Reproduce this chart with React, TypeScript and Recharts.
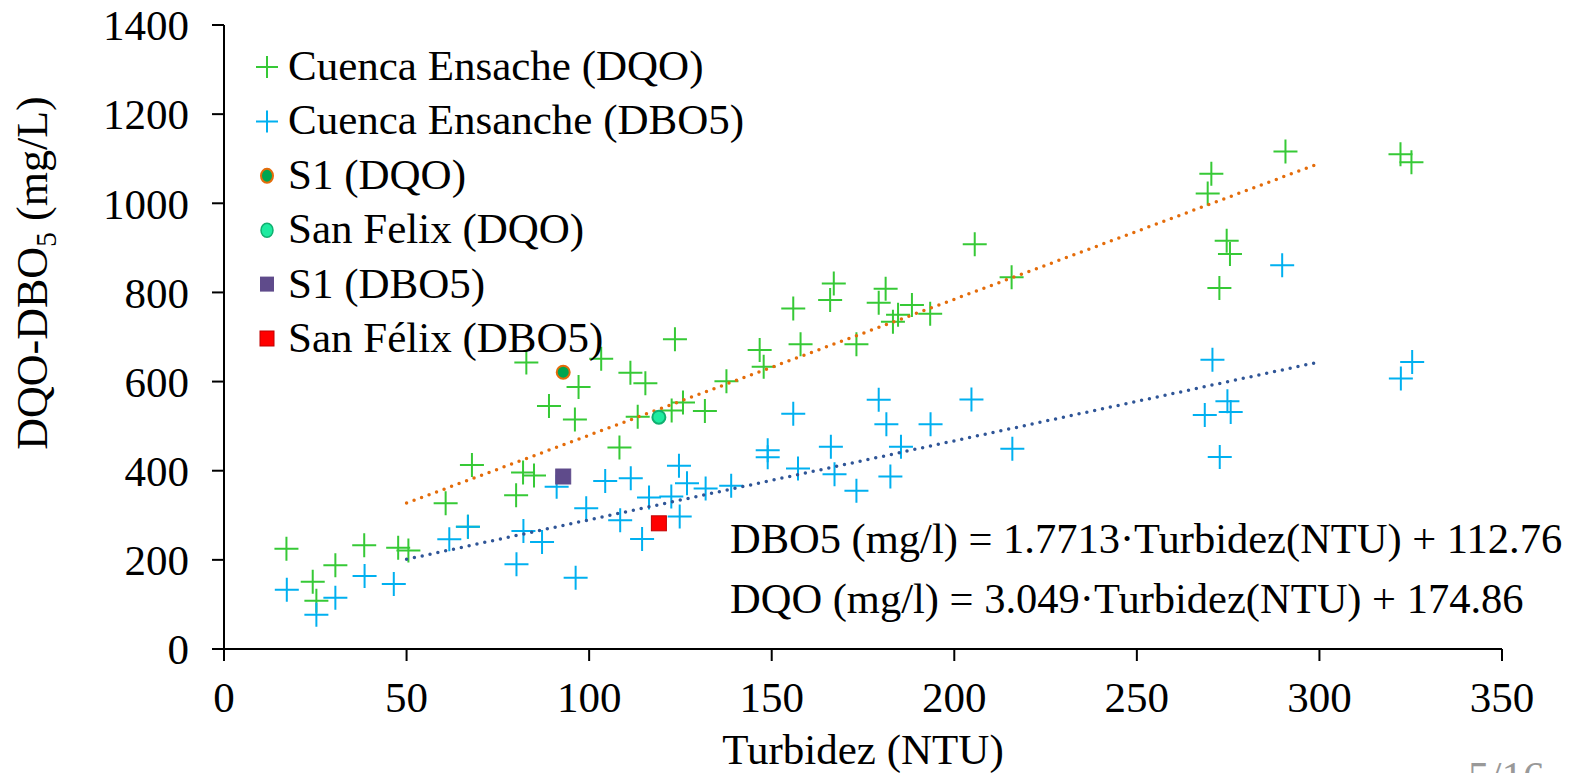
import React from 'react';
import { ScatterChart, Scatter, XAxis, YAxis } from 'recharts';

const FONT = '"Liberation Serif", "Times New Roman", serif';

const xTicks = [0, 50, 100, 150, 200, 250, 300, 350];
const yTicks = [0, 200, 400, 600, 800, 1000, 1200, 1400];

const cuencaDQO = [
  { x: 82.8, y: 643 }, { x: 103.3, y: 651 }, { x: 111.3, y: 620 }, { x: 115.4, y: 596 },
  { x: 97.1, y: 588 }, { x: 89, y: 545 }, { x: 96.1, y: 515 }, { x: 113.3, y: 521 },
  { x: 108.3, y: 452 }, { x: 67.9, y: 413 }, { x: 81.9, y: 396 }, { x: 84.9, y: 389 },
  { x: 80, y: 345 }, { x: 60.7, y: 327 }, { x: 66.8, y: 274 }, { x: 17.1, y: 225 },
  { x: 38.4, y: 233 }, { x: 47.7, y: 227 }, { x: 50.5, y: 221 }, { x: 30.5, y: 188 },
  { x: 24.3, y: 151 }, { x: 25.3, y: 108 }, { x: 205.6, y: 908 }, { x: 215.7, y: 834 },
  { x: 167, y: 820 }, { x: 181.2, y: 808 }, { x: 166, y: 783 }, { x: 155.9, y: 764 },
  { x: 179.3, y: 777 }, { x: 188.4, y: 772 }, { x: 193.4, y: 752 }, { x: 183.2, y: 734 },
  { x: 184.6, y: 750 }, { x: 123.5, y: 695 }, { x: 146.7, y: 671 }, { x: 157.9, y: 684 },
  { x: 173.2, y: 684 }, { x: 147.8, y: 633 }, { x: 137.6, y: 601 }, { x: 125.7, y: 553 },
  { x: 122.6, y: 535 }, { x: 131.7, y: 534 }, { x: 290.7, y: 1116 }, { x: 322.2, y: 1110 },
  { x: 325.2, y: 1092 }, { x: 270.4, y: 1066 }, { x: 269.4, y: 1022 }, { x: 274.6, y: 916 },
  { x: 275.5, y: 886 }, { x: 272.6, y: 810 },
];

const cuencaDBO5 = [
  { x: 91.1, y: 364 }, { x: 104.4, y: 377 }, { x: 111.4, y: 383 }, { x: 116.4, y: 340 },
  { x: 99.2, y: 316 }, { x: 108.5, y: 289 }, { x: 66.8, y: 274 }, { x: 61.7, y: 246 },
  { x: 82, y: 265 }, { x: 87.1, y: 240 }, { x: 114.5, y: 247 }, { x: 80.1, y: 190 },
  { x: 96.3, y: 160 }, { x: 17.2, y: 133 }, { x: 38.5, y: 164 }, { x: 46.5, y: 146 },
  { x: 30.5, y: 115 }, { x: 25.3, y: 77 }, { x: 204.7, y: 560 }, { x: 179.3, y: 559 },
  { x: 155.9, y: 528 }, { x: 181.4, y: 504 }, { x: 193.5, y: 504 }, { x: 215.9, y: 449 },
  { x: 148.9, y: 446 }, { x: 148.9, y: 430 }, { x: 166.2, y: 454 }, { x: 185.4, y: 454 },
  { x: 157.2, y: 405 }, { x: 167.2, y: 392 }, { x: 182.5, y: 387 }, { x: 173.2, y: 355 },
  { x: 124.6, y: 411 }, { x: 126.8, y: 372 }, { x: 131.9, y: 360 }, { x: 138.9, y: 366 },
  { x: 122.5, y: 342 }, { x: 124.8, y: 297 }, { x: 289.8, y: 861 }, { x: 270.7, y: 649 },
  { x: 325.4, y: 644 }, { x: 322.3, y: 607 }, { x: 274.8, y: 556 }, { x: 275.7, y: 532 },
  { x: 268.6, y: 525 }, { x: 272.7, y: 431 },
];

const s1DQO = [{ x: 92.9, y: 621 }];
const sanFelixDQO = [{ x: 119.1, y: 520 }];
const s1DBO5 = [{ x: 92.9, y: 387 }];
const sanFelixDBO5 = [{ x: 119.1, y: 282 }];

// trendline endpoints (from the printed regression equations)
const trendDQO = [{ x: 50, y: 327.3 }, { x: 300, y: 1089.6 }];
const trendDBO5 = [{ x: 50, y: 201.3 }, { x: 300, y: 644.2 }];

const legendItems = [
  'Cuenca Ensache (DQO)',
  'Cuenca Ensanche (DBO5)',
  'S1 (DQO)',
  'San Felix (DQO)',
  'S1 (DBO5)',
  'San Félix (DBO5)',
];

const equations = [
  'DBO5 (mg/l) = 1.7713·Turbidez(NTU) + 112.76',
  'DQO (mg/l) = 3.049·Turbidez(NTU) + 174.86',
];

const GREEN = '#36C936';
const BLUE = '#00B0F0';
const ORANGE = '#E46C0A';
const NAVY = '#2F5597';

const makeCross = (color: string) => (props: any) => {
  const { cx, cy } = props;
  if (cx == null || cy == null) return <g />;
  return (
    <path
      d={`M${cx - 12},${cy}H${cx + 12}M${cx},${cy - 12}V${cy + 12}`}
      stroke={color}
      strokeWidth={2}
      fill="none"
    />
  );
};

const makeCircle = (fill: string, stroke: string) => (props: any) => {
  const { cx, cy } = props;
  if (cx == null || cy == null) return <g />;
  return <circle cx={cx} cy={cy} r={6.5} fill={fill} stroke={stroke} strokeWidth={2} />;
};

const makeSquare = (fill: string, stroke: string) => (props: any) => {
  const { cx, cy } = props;
  if (cx == null || cy == null) return <g />;
  return <rect x={cx - 7.5} y={cy - 7.5} width={15} height={15} fill={fill} stroke={stroke} strokeWidth={1} />;
};

const noShape = () => <g />;

const tickStyle = { fontSize: 43, fill: '#000', fontFamily: FONT };

function LegendMarker({ i, cx, cy }: { i: number; cx: number; cy: number }) {
  if (i === 0 || i === 1) {
    const c = i === 0 ? GREEN : BLUE;
    return <path d={`M${cx - 11},${cy}H${cx + 11}M${cx},${cy - 11}V${cy + 11}`} stroke={c} strokeWidth={2} />;
  }
  if (i === 2) return <ellipse cx={cx} cy={cy} rx={6} ry={7} fill="#00A550" stroke={ORANGE} strokeWidth={2} />;
  if (i === 3) return <ellipse cx={cx} cy={cy} rx={6} ry={7} fill="#1EEBA0" stroke="#10B070" strokeWidth={1.5} />;
  if (i === 4) return <rect x={cx - 7} y={cy - 8} width={14} height={15} fill="#5F4B8B" />;
  return <rect x={cx - 7} y={cy - 8} width={14} height={15} fill="#FF0000" stroke="#C00000" strokeWidth={1} />;
}

export default function App() {
  return (
    <div style={{ position: 'absolute', left: 0, top: 0, width: 1581, height: 773, background: '#fff' }}>
      <ScatterChart
        width={1581}
        height={773}
        margin={{ top: 25, right: 79, bottom: 0, left: 0 }}
      >
        <XAxis
          type="number"
          dataKey="x"
          domain={[0, 350]}
          ticks={xTicks}
          interval={0}
          height={124}
          tickSize={12}
          tickMargin={20}
          axisLine={{ stroke: '#000', strokeWidth: 2 }}
          tickLine={{ stroke: '#000', strokeWidth: 2 }}
          tick={tickStyle}
        />
        <YAxis
          type="number"
          dataKey="y"
          domain={[0, 1400]}
          ticks={yTicks}
          interval={0}
          width={224}
          tickSize={12}
          tickMargin={23}
          axisLine={{ stroke: '#000', strokeWidth: 2 }}
          tickLine={{ stroke: '#000', strokeWidth: 2 }}
          tick={tickStyle}
        />
        <Scatter data={cuencaDQO} shape={makeCross(GREEN)} isAnimationActive={false} />
        <Scatter data={cuencaDBO5} shape={makeCross(BLUE)} isAnimationActive={false} />
        <Scatter
          data={trendDQO}
          shape={noShape}
          line={{ stroke: ORANGE, strokeWidth: 3.5, strokeDasharray: '0 8', strokeLinecap: 'round' }}
          isAnimationActive={false}
        />
        <Scatter
          data={trendDBO5}
          shape={noShape}
          line={{ stroke: NAVY, strokeWidth: 3.5, strokeDasharray: '0 8', strokeLinecap: 'round' }}
          isAnimationActive={false}
        />
        <Scatter data={s1DQO} shape={makeCircle('#00A550', ORANGE)} isAnimationActive={false} />
        <Scatter data={sanFelixDQO} shape={makeCircle('#1EEBA0', '#10B070')} isAnimationActive={false} />
        <Scatter data={s1DBO5} shape={makeSquare('#5F4B8B', '#5F4B8B')} isAnimationActive={false} />
        <Scatter data={sanFelixDBO5} shape={makeSquare('#FF0000', '#C00000')} isAnimationActive={false} />
      </ScatterChart>
      <svg
        width={1581}
        height={773}
        style={{ position: 'absolute', left: 0, top: 0, pointerEvents: 'none', overflow: 'hidden' }}
        fontFamily={FONT}
      >
        {legendItems.map((t, i) => {
          const cy = 67 + 54.4 * i;
          return (
            <g key={t}>
              <LegendMarker i={i} cx={267} cy={cy} />
              <text x={288} y={cy + 13} fontSize={43} fill="#000">{t}</text>
            </g>
          );
        })}
        {equations.map((t, i) => (
          <text key={t} x={730} y={553 + 60 * i} fontSize={42.5} fill="#000">{t}</text>
        ))}
        <text transform="translate(47,273) rotate(-90)" textAnchor="middle" fontSize={44} fill="#000">
          DQO-DBO<tspan fontSize={30} dy={9}>5</tspan><tspan dy={-9}> (mg/L)</tspan>
        </text>
        <text x={863} y={764} textAnchor="middle" fontSize={43} fill="#000">Turbidez (NTU)</text>
        <text x={1468} y={791} fontSize={43} fill="#999">5/16</text>
      </svg>
    </div>
  );
}
